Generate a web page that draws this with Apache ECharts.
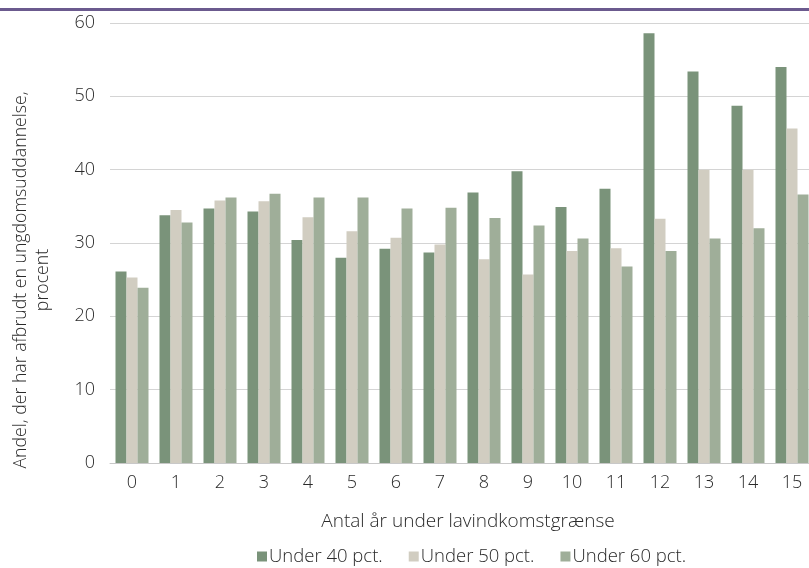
<!DOCTYPE html>
<html>
<head>
<meta charset="utf-8">
<script src="https://cdn.jsdelivr.net/npm/echarts@6/dist/echarts.min.js"></script>
<style>
  html, body { margin: 0; padding: 0; background: #fff; }
  #chart { width: 809px; height: 568px; }
</style>
</head>
<body>
<div id="chart"></div>
<script>
// data
var years = ['0', '1', '2', '3', '4', '5', '6', '7', '8', '9', '10', '11', '12', '13', '14', '15'];
var under40 = [26.1, 33.8, 34.7, 34.3, 30.4, 28.0, 29.2, 28.7, 36.9, 39.8, 34.9, 37.4, 58.6, 53.4, 48.7, 54.0];
var under50 = [25.3, 34.5, 35.8, 35.7, 33.5, 31.6, 30.7, 29.8, 27.8, 25.7, 28.9, 29.3, 33.3, 40.0, 40.0, 45.6];
var under60 = [23.9, 32.8, 36.2, 36.7, 36.2, 36.2, 34.7, 34.8, 33.4, 32.4, 30.6, 26.8, 28.9, 30.6, 32.0, 36.6];
var seriesNames = ['Under 40 pct.', 'Under 50 pct.', 'Under 60 pct.'];
var colors = ['#7a937a', '#d1cdc1', '#9fae99'];

var font = '"Open Sans", "Noto Sans", sans-serif';
var txt = '#2a2a2a';
var myChart = echarts.init(document.getElementById('chart'));

function bar(name, data, color) {
    return {
        name: name,
        type: 'bar',
        data: data,
        barGap: '0%',
        barCategoryGap: '25%',
        itemStyle: { color: color },
        emphasis: { disabled: true }
    };
}

var option = {
    animation: false,
    color: colors,
    textStyle: { fontFamily: font, fontWeight: 300 },
    graphic: [{
        type: 'rect',
        shape: { x: 0, y: 8, width: 809, height: 3 },
        style: { fill: '#6b5a8e' }
    }],
    grid: { left: 110, top: 23, width: 704, height: 440, containLabel: false, outerBoundsMode: 'none' },
    legend: {
        bottom: -3,
        left: 252,
        itemWidth: 10,
        itemHeight: 10,
        itemGap: 26,
        icon: 'rect',
        textStyle: { fontSize: 18.5, color: txt, fontFamily: font, fontWeight: 300, padding: [0, 0, 0, -3] },
        data: seriesNames
    },
    xAxis: {
        type: 'category',
        data: years,
        name: 'Antal år under lavindkomstgrænse',
        nameLocation: 'middle',
        nameGap: 49,
        nameTextStyle: { fontSize: 19, color: txt, fontWeight: 300, padding: [0, 0, 0, 12] },
        axisTick: { show: false },
        axisLine: { lineStyle: { color: '#c8c8c8' } },
        axisLabel: { fontSize: 18, color: txt, fontWeight: 300, margin: 11 }
    },
    yAxis: {
        type: 'value',
        min: 0,
        max: 60,
        interval: 10,
        name: 'Andel, der har afbrudt en ungdomsuddannelse,\nprocent',
        nameLocation: 'middle',
        nameGap: 56,
        nameTextStyle: { fontSize: 17.7, color: txt, fontWeight: 300, lineHeight: 22, padding: [0, 74, 0, 0] },
        axisLabel: { fontSize: 18, color: txt, fontWeight: 300, margin: 15 },
        splitLine: { lineStyle: { color: '#d4d4d4' } }
    },
    series: [
        bar(seriesNames[0], under40, colors[0]),
        bar(seriesNames[1], under50, colors[1]),
        bar(seriesNames[2], under60, colors[2])
    ]
};
option && myChart.setOption(option);
</script>
</body>
</html>
